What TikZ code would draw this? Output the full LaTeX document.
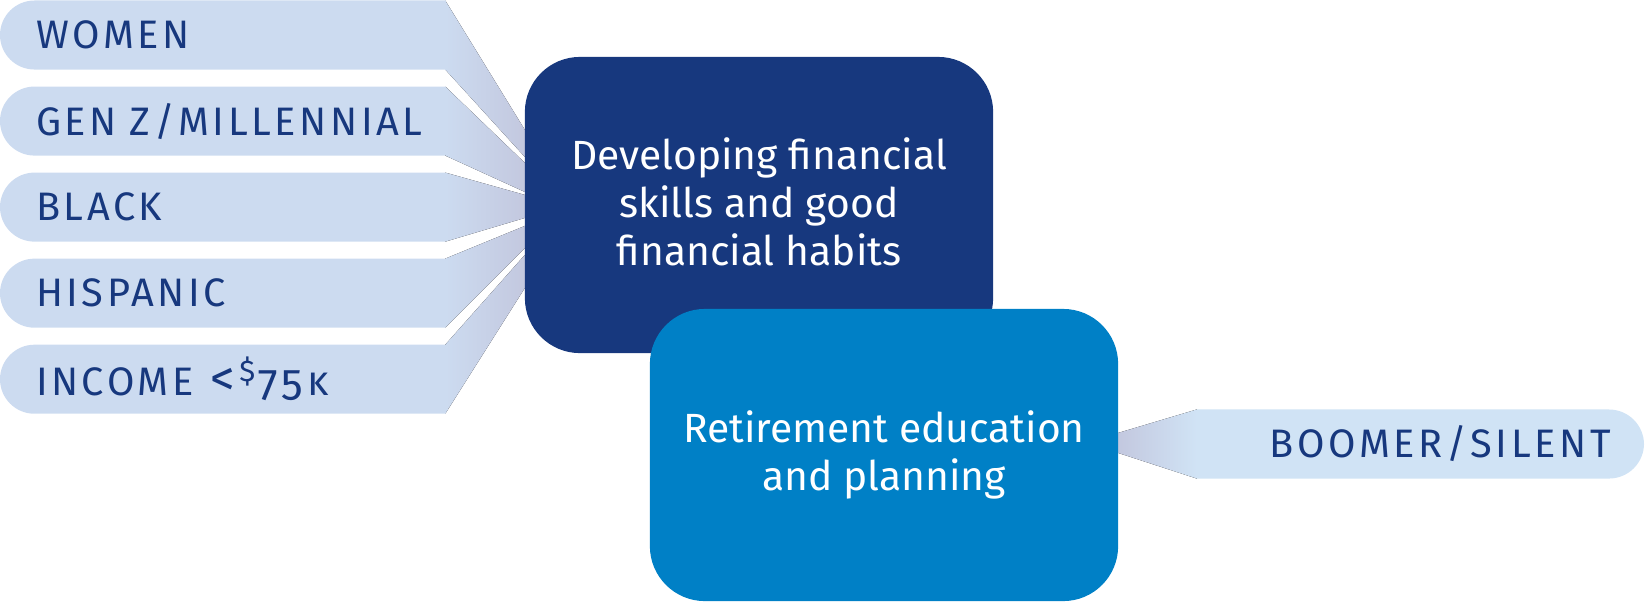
\documentclass[tikz,border=0pt]{standalone}
\usepackage{fontspec}
\setmainfont{Fira Sans}
\newfontfamily\capsfont[LetterSpace=9,Numbers=OldStyle]{Fira Sans}
\usepackage{tikz}
\usetikzlibrary{shapes,positioning,calc,backgrounds}
\definecolor{navy}{HTML}{17387E}
\definecolor{sky}{HTML}{0080C6}
\definecolor{pale}{HTML}{CCDBF0}
\definecolor{paler}{HTML}{D0E3F5}
\definecolor{haze}{HTML}{C3C8DF}

\begin{document}
\begin{tikzpicture}[x=0.01cm,y=-0.01cm,
  group/.style={rectangle,minimum width=4.45cm,minimum height=0.69cm,
    inner xsep=0pt,inner ysep=0pt,outer sep=0pt,text width=4.45cm,align=left,
    execute at begin node=\hspace*{0.36cm},
    text=navy,font=\capsfont\fontsize{11.3}{13}\selectfont},
  theme/.style={rectangle,rounded corners=0.55cm,minimum width=4.68cm,outer sep=0pt,
    text=white,align=center,font=\fontsize{11.6}{13.7}\selectfont}]
\useasboundingbox (0,0) rectangle (1646,605);
% Theme boxes
\node[theme,fill=navy,minimum height=2.96cm,text depth=0.07cm] (dev) at (759,205) {Developing financial\\skills and good\\financial habits};
\node[theme,fill=sky,minimum height=2.92cm] (ret) at (884,455) {Retirement education\\and planning};
% Groups
\node[group,anchor=west] (women) at (0,35) {WOMEN};
\node[group,below=0.17cm of women] (genz) {GEN Z/MILLENNIAL};
\node[group,below=0.17cm of genz] (black) {BLACK};
\node[group,below=0.17cm of black] (hisp) {HISPANIC};
\node[group,below=0.17cm of hisp] (income) {INCOME \hspace{0.04cm}{\fontsize{14}{13}\selectfont<}\hspace{0.04cm}\raisebox{0.35em}{\fontsize{8.5}{9}\selectfont\$}\hspace{0.03cm}{\fontsize{12.5}{13}\selectfont 75}\hspace{0.01cm}\textsc{k}};
\node[group,minimum width=4.47cm,inner xsep=0.37cm,text width=3.73cm,
  execute at begin node={},align=right,anchor=east] (boomer) at (1644,444) {BOOMER/SILENT};
% Bars and funnels
\begin{scope}[on background layer]
\fill[pale,rounded corners=0.345cm] (women.north east) -- (women.north west) -- (women.south west) -- (women.south east);
\fill[pale,rounded corners=0.345cm] (genz.north east) -- (genz.north west) -- (genz.south west) -- (genz.south east);
\fill[pale,rounded corners=0.345cm] (black.north east) -- (black.north west) -- (black.south west) -- (black.south east);
\fill[pale,rounded corners=0.345cm] (hisp.north east) -- (hisp.north west) -- (hisp.south west) -- (hisp.south east);
\fill[pale,rounded corners=0.345cm] (income.north east) -- (income.north west) -- (income.south west) -- (income.south east);
\fill[paler,rounded corners=0.35cm] (boomer.north west) -- (boomer.north east) -- (boomer.south east) -- (boomer.south west);
\fill[left color=pale,right color=haze] (women.north east) -- ($(dev.north west)+(0,73)$) -- ($(dev.north west)+(0,100)$) -- (women.south east) -- cycle;
\fill[left color=pale,right color=haze] (genz.north east) -- ($(dev.north west)+(0,106)$) -- ($(dev.north west)+(0,135)$) -- (genz.south east) -- cycle;
\fill[left color=pale,right color=haze] (black.north east) -- ($(dev.north west)+(0,138)$) -- ($(dev.north west)+(0,161)$) -- (black.south east) -- cycle;
\fill[left color=pale,right color=haze] (hisp.north east) -- ($(dev.north west)+(0,169)$) -- ($(dev.north west)+(0,191)$) -- (hisp.south east) -- cycle;
\fill[left color=pale,right color=haze] (income.north east) -- ($(dev.north west)+(0,198)$) -- ($(dev.north west)+(0,231)$) -- (income.south east) -- cycle;
\fill[left color=haze,right color=paler] ($(ret.north east)+(0,124)$) -- (boomer.north west) -- (boomer.south west) -- ($(ret.north east)+(0,144)$) -- cycle;
\end{scope}
\end{tikzpicture}
\end{document}
